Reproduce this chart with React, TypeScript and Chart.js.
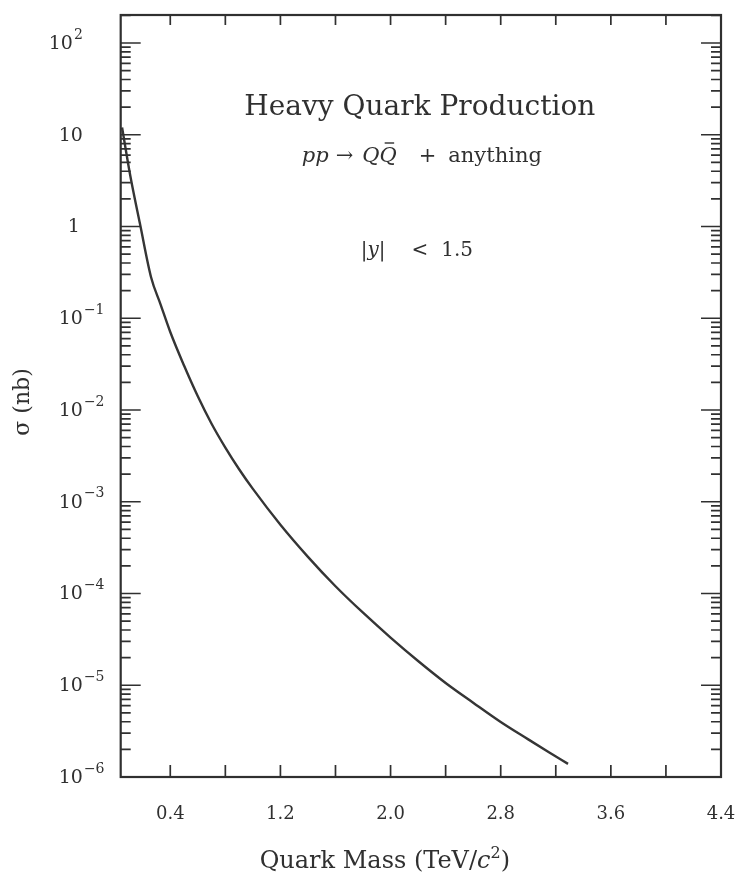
import { useEffect, useRef } from 'react';
import { Chart, registerables } from 'chart.js';

Chart.register(...registerables);

// Heavy quark pair cross section (nb) vs quark mass (TeV/c^2), |y| < 1.5
const massTeV = [
  0.05, 0.11, 0.18, 0.26, 0.33, 0.4, 0.5, 0.6, 0.7, 0.8, 0.9, 1.0,
  1.2, 1.4, 1.6, 1.8, 2.0, 2.2, 2.4, 2.6, 2.8, 3.0, 3.15, 3.289,
];
const sigmaNb = [
  12.0, 3.55, 1.07, 0.282, 0.141, 0.0708, 0.0305, 0.0141, 0.00708, 0.00389, 0.00226, 0.00138,
  5.62e-4, 2.51e-4, 1.2e-4, 6.17e-5, 3.31e-5, 1.84e-5, 1.06e-5, 6.46e-6, 3.98e-6, 2.57e-6,
  1.86e-6, 1.39e-6,
];

// Axis ticks
const xTickValues = [0.4, 0.8, 1.2, 1.6, 2.0, 2.4, 2.8, 3.2, 3.6, 4.0, 4.4];
const xLabelValues = [0.4, 1.2, 2.0, 2.8, 3.6, 4.4];
const xLabelTexts = ['0.4', '1.2', '2.0', '2.8', '3.6', '4.4'];
const yDecades = [-6, -5, -4, -3, -2, -1, 0, 1, 2];

const X_MIN = 0.04;
const X_MAX = 4.4;
const Y_MIN = 1e-6;
const Y_MAX = Math.pow(10, 2.305);

const SERIF = '"DejaVu Serif", "Liberation Serif", serif';
const INK = '#303030';

type Run = { text: string; font: string; dy?: number; overbar?: boolean; gap?: number };

// Draws a row of differently styled text pieces centred on cx.
function drawRuns(ctx: CanvasRenderingContext2D, runs: Run[], cx: number, baseline: number) {
  let total = 0;
  const widths = runs.map((r, i) => {
    ctx.font = r.font;
    const w = ctx.measureText(r.text).width;
    total += w + (i < runs.length - 1 ? r.gap || 0 : 0);
    return w;
  });
  let x = cx - total / 2;
  ctx.textAlign = 'left';
  ctx.textBaseline = 'alphabetic';
  runs.forEach((r, i) => {
    ctx.font = r.font;
    ctx.fillText(r.text, x, baseline + (r.dy || 0));
    if (r.overbar) {
      ctx.save();
      ctx.lineWidth = 1.4;
      ctx.beginPath();
      ctx.moveTo(x + widths[i] * 0.3, baseline - 19);
      ctx.lineTo(x + widths[i] * 0.85, baseline - 19);
      ctx.stroke();
      ctx.restore();
    }
    x += widths[i] + (r.gap || 0);
  });
}

const framePlugin = {
  id: 'paperFrame',
  afterDraw(chart: any) {
    const ctx: CanvasRenderingContext2D = chart.ctx;
    const { left, right, top, bottom } = chart.chartArea;
    const xs = chart.scales.x;
    const ys = chart.scales.y;
    ctx.save();
    ctx.strokeStyle = INK;
    ctx.fillStyle = INK;

    // frame
    ctx.lineWidth = 2.2;
    ctx.strokeRect(left, top, right - left, bottom - top);

    // x ticks on bottom and top, pointing inward
    ctx.lineWidth = 1.7;
    xTickValues.forEach((v) => {
      const px = xs.getPixelForValue(v);
      ctx.beginPath();
      ctx.moveTo(px, bottom);
      ctx.lineTo(px, bottom - 12);
      ctx.moveTo(px, top);
      ctx.lineTo(px, top + 10);
      ctx.stroke();
    });

    // y ticks on left and right, pointing inward
    yDecades.forEach((d) => {
      for (let m = 1; m <= 9; m++) {
        const v = m * Math.pow(10, d);
        if (v < Y_MIN || v > Y_MAX) continue;
        const py = ys.getPixelForValue(v);
        const len = m === 1 ? 20 : 10;
        ctx.beginPath();
        ctx.moveTo(left, py);
        ctx.lineTo(left + len, py);
        ctx.moveTo(right, py);
        ctx.lineTo(right - len, py);
        ctx.stroke();
      }
    });

    // x tick labels
    ctx.font = `18px ${SERIF}`;
    ctx.textAlign = 'center';
    ctx.textBaseline = 'middle';
    xLabelValues.forEach((v, i) => {
      ctx.fillText(xLabelTexts[i], xs.getPixelForValue(v), bottom + 37);
    });

    // y tick labels, powers of ten
    yDecades.forEach((d) => {
      const py = ys.getPixelForValue(Math.pow(10, d));
      ctx.textBaseline = 'middle';
      if (d === 0) {
        ctx.font = `19px ${SERIF}`;
        ctx.textAlign = 'center';
        ctx.fillText('1', left - 47, py + 1);
        return;
      }
      ctx.textAlign = 'left';
      const x0 = left - 62 - (d === 2 ? 10 : 0);
      ctx.font = `19px ${SERIF}`;
      ctx.fillText('10', x0, py + 1);
      if (d !== 1) {
        const w = ctx.measureText('10').width;
        ctx.font = `14px ${SERIF}`;
        ctx.fillText(d < 0 ? '\u2212' + String(-d) : String(d), x0 + w + 1, py - 8);
      }
    });

    // y axis title
    ctx.save();
    ctx.translate(left - 99, (top + bottom) / 2 + 6);
    ctx.rotate(-Math.PI / 2);
    drawRuns(ctx, [{ text: '\u03c3 (nb)', font: `22px ${SERIF}` }], 0, 7);
    ctx.restore();

    // x axis title
    drawRuns(
      ctx,
      [
        { text: 'Quark Mass (TeV/', font: `24px ${SERIF}` },
        { text: 'c', font: `italic 24px ${SERIF}` },
        { text: '2', font: `16px ${SERIF}`, dy: -10 },
        { text: ')', font: `24px ${SERIF}` },
      ],
      (left + right) / 2 - 36,
      bottom + 91
    );

    // annotations
    const cx = (left + right) / 2;
    drawRuns(ctx, [{ text: 'Heavy Quark Production', font: `28px ${SERIF}` }], cx - 1, top + 100);
    drawRuns(
      ctx,
      [
        { text: 'pp', font: `italic 21px ${SERIF}`, gap: 7 },
        { text: '\u2192', font: `21px ${SERIF}`, gap: 9 },
        { text: 'Q', font: `italic 21px ${SERIF}` },
        { text: 'Q', font: `italic 21px ${SERIF}`, overbar: true, gap: 22 },
        { text: '+', font: `21px ${SERIF}`, gap: 12 },
        { text: 'anything', font: `21px ${SERIF}` },
      ],
      cx + 1,
      top + 147
    );
    drawRuns(
      ctx,
      [
        { text: '|', font: `20px ${SERIF}` },
        { text: 'y', font: `italic 20px ${SERIF}` },
        { text: '|', font: `20px ${SERIF}`, gap: 26 },
        { text: '<', font: `20px ${SERIF}`, gap: 13 },
        { text: '1.5', font: `20px ${SERIF}` },
      ],
      cx - 4,
      top + 241
    );
    ctx.restore();
  },
};

export default function App() {
  const canvasRef = useRef<HTMLCanvasElement | null>(null);

  useEffect(() => {
    document.body.style.margin = '0';
    if (!canvasRef.current) return;
    const chart = new Chart(canvasRef.current, {
      type: 'line',
      data: {
        datasets: [
          {
            data: massTeV.map((m, i) => ({ x: m, y: sigmaNb[i] })),
            borderColor: '#353535',
            borderWidth: 2.4,
            pointRadius: 0,
            cubicInterpolationMode: 'monotone',
            fill: false,
          },
        ],
      },
      options: {
        responsive: false,
        animation: false,
        layout: { padding: { left: 120.7, right: 14, top: 15, bottom: 102 } },
        plugins: { legend: { display: false }, tooltip: { enabled: false } },
        scales: {
          x: { type: 'linear', min: X_MIN, max: X_MAX, display: false },
          y: { type: 'logarithmic', min: Y_MIN, max: Y_MAX, display: false },
        },
      },
      plugins: [framePlugin],
    });
    return () => chart.destroy();
  }, []);

  return (
    <div style={{ width: 735, height: 879, overflow: 'hidden' }}>
      <canvas ref={canvasRef} width={735} height={879} style={{ display: 'block' }} />
    </div>
  );
}
